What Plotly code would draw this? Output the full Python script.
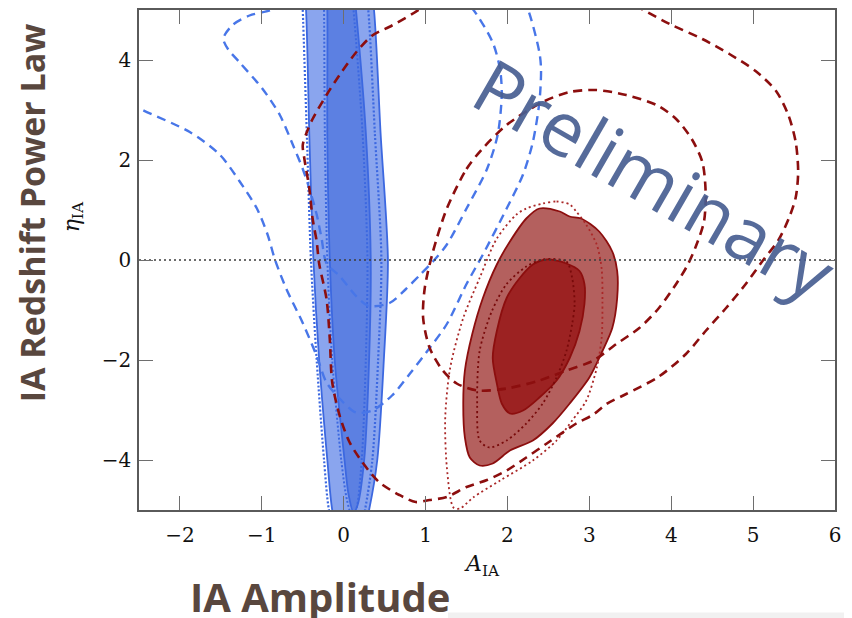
import plotly.graph_objects as go

# ---------------- data ----------------
x_ticks = [-2, -1, 0, 1, 2, 3, 4, 5, 6]
x_ticktext = ["\u22122", "\u22121", "0", "1", "2", "3", "4", "5", "6"]
y_ticks = [-4, -2, 0, 2, 4]
y_ticktext = ["\u22124", "\u22122", "0", "2", "4"]

# blue (narrow) constraints - filled
blue_outer_x = [-0.50, -0.46, -0.42, -0.37, -0.30, -0.20, -0.14, -0.05, 0.22, 0.31, 0.41, 0.49, 0.54, 0.45, 0.37, 0.30]
blue_outer_y = [5.8, 5.0, 2.5, 0.0, -2.0, -4.0, -5.0, -5.6, -5.6, -5.0, -4.0, -2.0, 0.0, 2.55, 5.0, 5.8]
blue_inner_x = [-0.22, -0.20, -0.20, -0.17, -0.11, 0.01, 0.06, 0.12, 0.17, 0.25, 0.31, 0.33, 0.27, 0.15, 0.10]
blue_inner_y = [5.8, 5.0, 2.5, 0.0, -2.0, -4.0, -4.7, -5.05, -4.9, -4.0, -2.0, 0.0, 2.55, 5.0, 5.8]
# blue dotted contours
blue_dot_outer_x = [-0.52, -0.50, -0.45, -0.40, -0.33, -0.24, -0.18, -0.08, 0.18, 0.26, 0.35, 0.42, 0.46, 0.38, 0.30, 0.24]
blue_dot_outer_y = [5.8, 5.0, 2.5, 0.0, -2.0, -4.0, -5.0, -5.6, -5.6, -5.0, -4.0, -2.0, 0.0, 2.55, 5.0, 5.8]
blue_dot_inner_x = [-0.25, -0.24, -0.23, -0.20, -0.14, -0.03, 0.04, 0.10, 0.15, 0.22, 0.27, 0.29, 0.23, 0.12, 0.07]
blue_dot_inner_y = [5.8, 5.0, 2.5, 0.0, -2.0, -4.0, -4.8, -5.1, -5.0, -4.0, -2.0, 0.0, 2.55, 5.0, 5.8]
# blue dashed contours
blue_dash_outer_x = [-2.6, -2.48, -1.88, -1.51, -1.27, -1.06, -0.93, -0.84, -0.70, -0.50, -0.33, -0.21, -0.05, 0.15, 0.35,
                     0.59, 0.81, 1.05, 1.26, 1.50, 1.70, 1.99, 2.19, 2.31, 2.39, 2.41, 2.39, 2.25, 2.15]
blue_dash_outer_y = [3.15, 3.02, 2.56, 2.10, 1.57, 1.03, 0.51, 0.01, -0.58, -1.26, -1.92, -2.45, -2.77, -3.05, -3.01,
                     -2.71, -2.27, -1.76, -1.28, -0.48, 0.11, 1.03, 1.71, 2.36, 3.16, 3.81, 4.15, 5.01, 5.3]
blue_dash_inner_x = [-0.75, -0.87, -1.15, -1.35, -1.45, -1.47, -1.41, -1.27, -0.99, -0.78, -0.62, -0.50, -0.42, -0.33, -0.27,
                     -0.21, -0.05, 0.15, 0.31, 0.56, 0.76, 0.93, 1.09, 1.26, 1.50, 1.75, 1.88, 1.93, 1.91, 1.82, 1.58, 1.45]
blue_dash_inner_y = [5.15, 5.01, 4.89, 4.71, 4.51, 4.41, 4.21, 3.95, 3.42, 2.90, 2.30, 1.82, 1.43, 0.91, 0.43,
                     -0.07, -0.32, -0.72, -0.92, -0.86, -0.58, -0.30, -0.03, 0.31, 1.03, 1.82, 2.50, 3.30, 3.81, 4.35, 5.01, 5.2]

# red constraints - filled
red_outer_x = [2.39, 2.64, 2.76, 2.90, 3.12, 3.28, 3.34, 3.34, 3.28, 3.16, 3.00, 2.76, 2.55, 2.31, 2.03, 1.82, 1.66,
               1.54, 1.48, 1.46, 1.48, 1.57, 1.70, 1.87, 2.03, 2.23]
red_outer_y = [1.03, 0.97, 0.87, 0.83, 0.57, 0.17, -0.22, -0.76, -1.36, -1.82, -2.35, -2.87, -3.27, -3.61, -3.81, -4.07,
               -4.11, -3.95, -3.55, -2.87, -2.21, -1.48, -0.76, -0.09, 0.37, 0.83]
red_inner_x = [2.48, 2.72, 2.88, 2.94, 2.94, 2.88, 2.76, 2.60, 2.39, 2.19, 2.03, 1.93, 1.87, 1.82, 1.87, 1.99, 2.15, 2.31]
red_inner_y = [0.01, -0.07, -0.22, -0.48, -0.88, -1.42, -1.96, -2.41, -2.75, -3.01, -3.07, -2.87, -2.47, -1.96, -1.42,
               -0.76, -0.36, -0.09]
# red dotted contours
red_dot_outer_x = [2.43, 2.60, 2.76, 2.84, 2.96, 3.09, 3.15, 3.16, 3.15, 3.09, 2.96, 2.79, 2.60, 2.31, 1.91, 1.58, 1.42,
                   1.34, 1.26, 1.24, 1.30, 1.46, 1.66, 1.87, 2.11, 2.23]
red_dot_outer_y = [1.13, 1.17, 1.11, 0.97, 0.71, 0.31, -0.17, -0.82, -1.56, -2.16, -2.82, -3.21, -3.61, -4.01, -4.41,
                   -4.75, -4.97, -4.95, -4.15, -3.15, -2.16, -1.16, -0.36, 0.43, 0.91, 1.03]
red_dot_inner_x = [2.43, 2.72, 2.79, 2.82, 2.79, 2.72, 2.60, 2.43, 2.23, 1.99, 1.78, 1.66, 1.63, 1.66, 1.81, 1.99, 2.23]
red_dot_inner_y = [0.01, -0.03, -0.36, -0.88, -1.28, -1.82, -2.35, -2.87, -3.27, -3.61, -3.75, -3.61, -2.87, -1.82,
                   -1.02, -0.48, -0.13]
# red dashed contours
red_dash_inner_x = [1.26, 1.50, 1.68, 1.99, 2.43, 2.76, 3.08, 3.45, 3.82, 4.06, 4.25, 4.38, 4.42, 4.40, 4.30, 4.20, 4.06,
                    3.85, 3.61, 3.33, 3.04, 2.72, 2.39, 1.99, 1.63, 1.38, 1.21, 1.05, 0.97, 0.99, 1.09]
red_dash_inner_y = [1.03, 1.82, 2.20, 2.70, 3.16, 3.36, 3.40, 3.30, 3.10, 2.82, 2.42, 1.96, 1.36, 0.77, 0.27, -0.10, -0.48,
                    -0.96, -1.36, -1.68, -2.02, -2.21, -2.41, -2.57, -2.61, -2.47, -2.21, -1.76, -1.16, -0.56, 0.17]
red_dash_outer_x = [1.05, 0.92, 0.59, 0.35, 0.15, -0.05, -0.21, -0.38, -0.45, -0.50, -0.48, -0.42, -0.38, -0.33, -0.30,
                    -0.21, -0.17, -0.14, -0.05, 0.07, 0.23, 0.43, 0.68, 0.88, 1.05, 1.26, 1.50, 1.75, 1.99, 2.23, 2.48,
                    2.84, 3.04, 3.21, 3.45, 3.85, 4.18, 4.42, 4.67, 4.91, 5.11, 5.31, 5.44, 5.52, 5.55, 5.52, 5.43, 5.28,
                    5.03, 4.71, 4.38, 3.98, 3.65, 3.50]
red_dash_outer_y = [5.2, 5.01, 4.69, 4.49, 4.15, 3.70, 3.30, 2.82, 2.56, 2.30, 2.02, 1.43, 0.83, 0.37, -0.07,
                    -0.78, -1.58, -2.45, -3.11, -3.64, -4.05, -4.44, -4.70, -4.84, -4.80, -4.74, -4.54, -4.40, -4.21, -3.95,
                    -3.67, -3.27, -3.10, -2.88, -2.68, -2.33, -1.88, -1.42, -0.96, -0.48, -0.03, 0.40, 0.85, 1.25, 1.76,
                    2.36, 2.90, 3.38, 3.78, 4.12, 4.42, 4.72, 5.01, 5.15]

# ---------------- styles ----------------
BLUE_EDGE = "rgb(60,104,224)"
BLUE_LIGHT = "rgb(138,165,238)"
BLUE_DARK = "rgb(92,128,226)"
BLUE_DASH = "rgb(72,118,232)"
RED_EDGE = "rgb(140,14,14)"
RED_LIGHT = "rgb(180,96,94)"
RED_DARK = "rgb(156,34,34)"

fig = go.Figure()


def closed(xs, ys):
    return list(xs) + [xs[0]], list(ys) + [ys[0]]


def add_fill(xs, ys, fillc, linec):
    cx, cy = closed(xs, ys)
    fig.add_trace(go.Scatter(x=cx, y=cy, mode="lines", fill="toself", fillcolor=fillc,
                             line=dict(color=linec, width=1.8, shape="spline", smoothing=0.8),
                             hoverinfo="skip", showlegend=False))


def add_line(xs, ys, color, dash, width, close=False):
    if close:
        xs, ys = closed(xs, ys)
    fig.add_trace(go.Scatter(x=xs, y=ys, mode="lines",
                             line=dict(color=color, width=width, dash=dash, shape="spline", smoothing=0.8),
                             hoverinfo="skip", showlegend=False))


# blue filled
add_fill(blue_outer_x, blue_outer_y, BLUE_LIGHT, BLUE_EDGE)
add_fill(blue_inner_x, blue_inner_y, BLUE_DARK, BLUE_EDGE)
add_line(blue_dot_outer_x, blue_dot_outer_y, BLUE_EDGE, "2px,2px", 2.2, close=True)
add_line(blue_dot_inner_x, blue_dot_inner_y, BLUE_EDGE, "2px,2px", 2.0, close=True)

# red filled
add_fill(red_outer_x, red_outer_y, RED_LIGHT, RED_EDGE)
add_fill(red_inner_x, red_inner_y, RED_DARK, RED_EDGE)
add_line(red_dot_outer_x, red_dot_outer_y, "rgb(170,40,40)", "2px,3px", 1.8, close=True)
add_line(red_dot_inner_x, red_dot_inner_y, "rgb(120,10,10)", "2px,3px", 1.8, close=True)

# dashed contours
add_line(blue_dash_outer_x, blue_dash_outer_y, BLUE_DASH, "9px,6px", 2.4)
add_line(blue_dash_inner_x, blue_dash_inner_y, BLUE_DASH, "9px,6px", 2.4)
add_line(red_dash_inner_x, red_dash_inner_y, RED_EDGE, "9px,6px", 2.6, close=True)
add_line(red_dash_outer_x, red_dash_outer_y, RED_EDGE, "9px,6px", 2.6)

# horizontal dotted line at eta = 0
fig.add_trace(go.Scatter(x=[-2.5, 6], y=[0, 0], mode="lines",
                         line=dict(color="rgb(60,60,60)", width=1.6, dash="2px,3px"),
                         hoverinfo="skip", showlegend=False))

axis_common = dict(showgrid=False, zeroline=False, showline=True, linecolor="rgb(90,90,90)", linewidth=1.5,
                   mirror="ticks", ticks="inside", ticklen=14, tickwidth=1.2, tickcolor="rgb(110,110,110)",
                   tickfont=dict(family="DejaVu Serif", size=20, color="#111"))

# the page body adds an 8px offset, so the figure is 8px smaller than the window
fig.update_layout(
    width=844, height=610,
    margin=dict(l=131, r=17, t=0, b=108),
    paper_bgcolor="white", plot_bgcolor="white",
    xaxis=dict(range=[-2.5, 6], tickvals=x_ticks, ticktext=x_ticktext, ticklabelstandoff=6, **axis_common),
    yaxis=dict(range=[-5, 5], tickvals=y_ticks, ticktext=y_ticktext, ticklabelstandoff=2, **axis_common),
    showlegend=False,
)

BROWN = "rgb(89,71,62)"
fig.add_annotation(text="<b>IA Redshift Power Law</b>", xref="paper", yref="paper", x=-0.1537, y=0.5936,
                   textangle=-90, showarrow=False, font=dict(family="Open Sans", size=34, color=BROWN),
                   xanchor="center", yanchor="middle")
fig.add_annotation(text="<b>IA Amplitude</b>", xref="paper", yref="paper", x=0.26, y=-0.173,
                   showarrow=False, font=dict(family="Open Sans", size=40, color=BROWN),
                   xanchor="center", yanchor="middle")
fig.add_annotation(text="<i>η</i><sub>IA</sub>", xref="paper", yref="paper", x=-0.094, y=0.5865,
                   textangle=-90, showarrow=False, font=dict(family="DejaVu Serif", size=22, color="#111"),
                   xanchor="center", yanchor="middle")
fig.add_annotation(text="<i>A</i><sub>IA</sub>", xref="paper", yref="paper", x=0.4928, y=-0.111,
                   showarrow=False, font=dict(family="DejaVu Serif", size=22, color="#111"),
                   xanchor="center", yanchor="middle")
fig.add_annotation(text="Preliminary", xref="paper", yref="paper", x=0.741, y=0.664,
                   textangle=30, showarrow=False, font=dict(family="Open Sans", size=75, color="rgba(72,94,145,0.92)"),
                   xanchor="center", yanchor="middle")

# faint grey band at the very bottom of the slide
fig.add_shape(type="rect", xref="paper", yref="paper", x0=(440 - 131) / 696, x1=1.05,
              y0=(502 - 612) / 502, y1=(502 - 605) / 502, fillcolor="rgb(241,241,241)", line=dict(width=0),
              layer="below")

fig.write_html("out.html")
